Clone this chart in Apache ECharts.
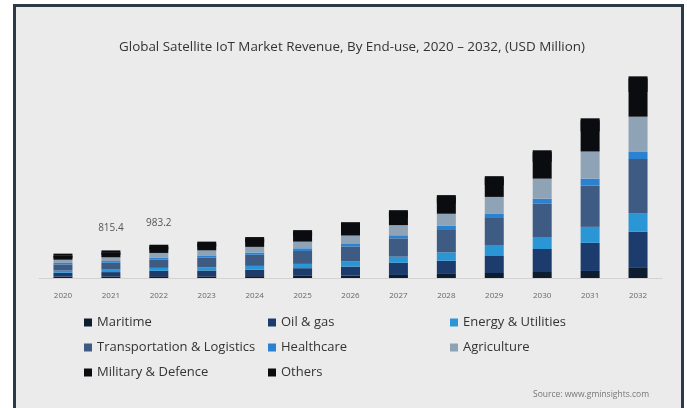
<!DOCTYPE html>
<html>
<head>
<meta charset="utf-8">
<script src="https://cdn.jsdelivr.net/npm/echarts@6/dist/echarts.min.js"></script>
<style>
  html, body { margin: 0; padding: 0; background: #ffffff; width: 687px; height: 408px; overflow: hidden; }
  #frame {
    position: absolute; left: 13px; top: 4px; width: 665px; height: 420px;
    border-left: 3px solid #2c3a47; border-top: 3px solid #2c3a47; border-right: 3px solid #2c3a47;
    background: #ebebeb;
  }
  #chart { position: absolute; left: 0; top: 0; width: 687px; height: 408px; }
</style>
</head>
<body>
<div id="frame"></div>
<div id="chart"></div>
<script>
// Years on the category axis
const years = ['2020','2021','2022','2023','2024','2025','2026','2027','2028','2029','2030','2031','2032'];

// Revenue by end-use, USD Million
const maritime       = [40, 44.2, 52.8, 49, 55, 64, 74, 90, 120, 148, 177, 208, 298];
const oilGas         = [115, 130.5, 158.4, 172, 194, 226, 264, 361, 392, 503, 680, 831, 1073];
const energyUtil     = [65, 73.4, 88.1, 97, 109, 127, 149, 180, 245, 325, 355, 472, 536];
const transportLog   = [180, 203.8, 248.6, 290, 327, 382, 446, 541, 662, 798, 981, 1218, 1609];
const healthcare     = [45, 49.1, 57.3, 59, 66, 78, 91, 90, 122, 120, 151, 208, 209];
const agriculture    = [95, 110.6, 135.4, 150, 169, 198, 231, 300, 358, 503, 593, 802, 1043];
const militaryDef    = [120, 135.2, 160.2, 172, 193, 227, 264, 295, 367, 409, 558, 654, 795];
const others         = [60, 68.6, 82.4, 86, 97, 113, 131, 148, 184, 204, 280, 327, 397];

// Years whose stacked total is printed above the bar
const labelledYears = ['2021', '2022'];

const seriesDefs = [
  { name: 'Maritime', data: maritime, color: '#0e1c30' },
  { name: 'Oil & gas', data: oilGas, color: '#1b3c6c' },
  { name: 'Energy & Utilities', data: energyUtil, color: '#2a96d6' },
  { name: 'Transportation & Logistics', data: transportLog, color: '#3e5b83' },
  { name: 'Healthcare', data: healthcare, color: '#2b82d1' },
  { name: 'Agriculture', data: agriculture, color: '#8ea3b6' },
  { name: 'Military & Defence', data: militaryDef, color: '#0a0c10' },
  { name: 'Others', data: others, color: '#0a0c10' }
];

function totalAt(i) {
  return seriesDefs.reduce((s, d) => s + d.data[i], 0);
}

const fontFam = '"Open Sans", sans-serif';

const series = seriesDefs.map((d, si) => {
  const isTop = si === seriesDefs.length - 1;
  return {
    name: d.name,
    type: 'bar',
    stack: 'total',
    barWidth: 19,
    // the top segment shares its colour with the one below; a shadow of the same
    // colour cast downward fills the anti-aliased seam between them
    itemStyle: isTop
      ? { color: d.color, borderWidth: 0, shadowColor: d.color, shadowBlur: 0, shadowOffsetY: 2 }
      : { color: d.color, borderWidth: 0 },
    emphasis: { disabled: true },
    data: d.data.map((v, i) => {
      if (isTop && labelledYears.includes(years[i])) {
        return {
          value: v,
          label: {
            show: true, position: 'top', distance: 17,
            formatter: () => (Math.round(totalAt(i) * 10) / 10).toFixed(1),
            color: '#555', fontSize: 10, fontFamily: fontFam
          }
        };
      }
      return v;
    })
  };
});

const legendText = { color: '#333', fontSize: 13, fontFamily: fontFam };
const legendBase = {
  orient: 'vertical', itemWidth: 8, itemHeight: 8, itemGap: 12,
  icon: 'rect', textStyle: legendText, selectedMode: false
};

const chart = echarts.init(document.getElementById('chart'), null, { renderer: 'canvas' });
chart.setOption({
  animation: false,
  backgroundColor: 'transparent',
  title: {
    text: 'Global Satellite IoT Market Revenue, By End-use, 2020 \u2013 2032, (USD Million)',
    left: 347, top: 36, textAlign: 'center',
    textStyle: { color: '#333333', fontSize: 13.4, fontWeight: 'normal', fontFamily: fontFam }
  },
  grid: { left: 39, right: 25, top: 75, bottom: 130 },
  xAxis: {
    type: 'category', data: years,
    axisLine: { lineStyle: { color: '#d2d2d2' } },
    axisTick: { show: false },
    axisLabel: { color: '#666', fontSize: 8, margin: 14, fontFamily: fontFam }
  },
  yAxis: { type: 'value', min: 0, max: 6000, show: false, splitLine: { show: false } },
  legend: [
    Object.assign({ left: 79, top: 311, data: ['Maritime', 'Transportation & Logistics', 'Military & Defence'] }, legendBase),
    Object.assign({ left: 263, top: 311, data: ['Oil & gas', 'Healthcare', 'Others'] }, legendBase),
    Object.assign({ left: 445, top: 311, data: ['Energy & Utilities', 'Agriculture'] }, legendBase)
  ],
  graphic: [{
    type: 'text', right: 38, top: 390,
    style: { text: 'Source: www.gminsights.com', fill: '#777', fontSize: 8.5, fontFamily: fontFam }
  }],
  series: series
});
</script>
</body>
</html>
